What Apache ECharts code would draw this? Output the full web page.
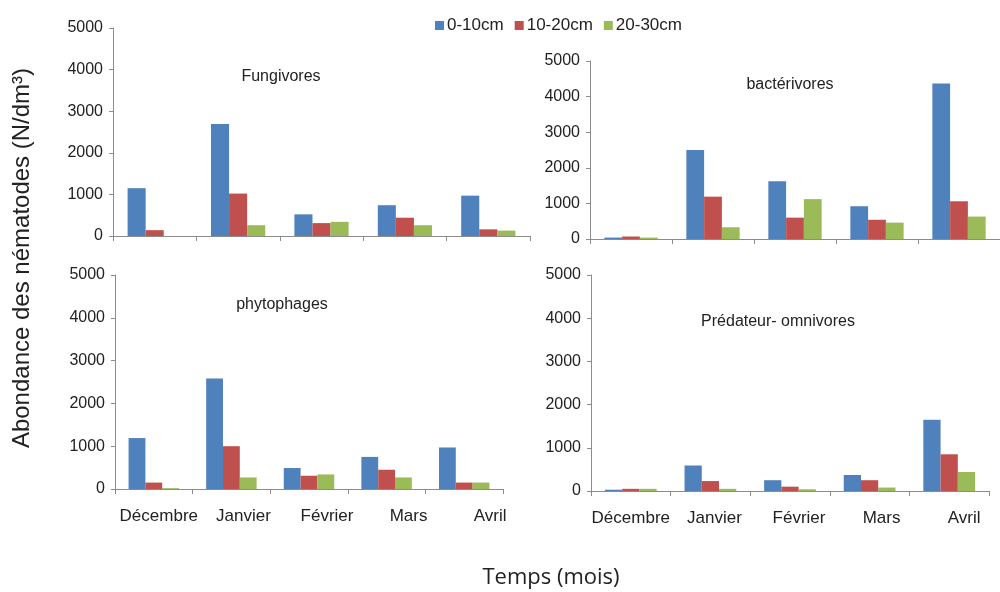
<!DOCTYPE html>
<html><head><meta charset="utf-8">
<script src="https://cdn.jsdelivr.net/npm/echarts@6/dist/echarts.min.js"></script>
<style>html,body{margin:0;padding:0;background:#fff}#c{width:1000px;height:592px}</style>
</head><body><div id="c"></div>
<script>
const months = ['Décembre', 'Janvier', 'Février', 'Mars', 'Avril'];
const depths = ['0-10cm', '10-20cm', '20-30cm'];
const yTicks = [0, 1000, 2000, 3000, 4000, 5000];
const panelTitles = ['Fungivores', 'bactérivores', 'phytophages', 'Prédateur- omnivores'];
const fungivores = [
  [1150, 2690, 520, 740, 970],
  [140, 1020, 310, 440, 160],
  [0, 260, 340, 260, 130]
];
const bacterivores = [
  [40, 2500, 1620, 920, 4370],
  [70, 1190, 600, 540, 1060],
  [40, 330, 1120, 460, 630]
];
const phytophages = [
  [1190, 2580, 490, 750, 970],
  [150, 1000, 310, 450, 150],
  [20, 270, 340, 270, 150]
];
const predateurs = [
  [30, 590, 250, 370, 1650],
  [50, 230, 100, 250, 850],
  [50, 50, 40, 80, 440]
];
const panels = [fungivores, bacterivores, phytophages, predateurs];
const colors = ['#4F81BD', '#C0504D', '#9BBB59'];
const font = 'Liberation Sans, Arial, sans-serif';

const grids = [
  {left: 113, top: 28, width: 417, height: 208},
  {left: 590, top: 61, width: 420, height: 178},
  {left: 115, top: 275, width: 388, height: 214},
  {left: 591, top: 275, width: 398, height: 216}
];
const titlePos = [[281, 77], [790, 85], [282, 305], [778, 322]];
// label drift to the right, as in the reference (layout only)
const labelShift = [null, null, [5, 12, 18, 22, 26], [0, 4, 9, 12, 15]];

const xAxes = grids.map((g, i) => {
  const rich = {};
  if (labelShift[i]) {
    labelShift[i].forEach((s, k) => {
      rich['a' + k] = {padding: [0, 0, 0, 2 * s], fontSize: 17, fontFamily: font, color: '#222'};
    });
  }
  return {
    type: 'category', gridIndex: i, data: months,
    axisLine: {lineStyle: {color: '#8c8c8c', width: 1}},
    axisTick: {show: true, length: 5, lineStyle: {color: '#8c8c8c'}},
    axisLabel: {
      show: i >= 2, interval: 0, color: '#222', fontSize: 17, fontFamily: font, margin: 19,
      formatter: (v, idx) => '{a' + idx + '|' + v + '}', rich: rich
    }
  };
});
const yAxes = grids.map((g, i) => ({
  type: 'value', gridIndex: i, min: yTicks[0], max: yTicks[yTicks.length - 1], interval: 1000,
  axisLine: {show: true, lineStyle: {color: '#8c8c8c', width: 1}},
  axisTick: {show: true, length: 4, lineStyle: {color: '#8c8c8c'}},
  splitLine: {show: false},
  axisLabel: {color: '#222', fontSize: 16, fontFamily: font, margin: 10, formatter: v => String(v)}
}));
const series = [];
panels.forEach((p, i) => {
  p.forEach((vals, d) => {
    series.push({
      type: 'bar', name: depths[d], xAxisIndex: i, yAxisIndex: i, data: vals,
      itemStyle: {color: colors[d]}, barGap: '0%', barCategoryGap: '35%'
    });
  });
});

const graphics = panelTitles.map((t, i) => ({
  type: 'text', x: titlePos[i][0], y: titlePos[i][1],
  style: {text: t, fill: '#222', font: '16px ' + font, textAlign: 'center', textVerticalAlign: 'middle'}
}));
graphics.push({
  type: 'text', x: 22, y: 258, rotation: Math.PI / 2,
  style: {text: 'Abondance des nématodes (N/dm³)', fill: '#222', font: '24px ' + font, textAlign: 'center', textVerticalAlign: 'middle'}
});
graphics.push({
  type: 'text', x: 551, y: 578,
  style: {text: 'Temps (mois)', fill: '#222', font: '22px "Open Sans", sans-serif', textAlign: 'center', textVerticalAlign: 'middle'}
});

const chart = echarts.init(document.getElementById('c'));
chart.setOption({
  animation: false,
  backgroundColor: '#fff',
  legend: {
    data: depths, left: 430, top: 12, itemWidth: 9, itemHeight: 9, itemGap: 11, icon: 'rect',
    textStyle: {fontSize: 17, fontFamily: font, color: '#222', padding: [0, 0, 0, -2]}
  },
  grid: grids,
  xAxis: xAxes,
  yAxis: yAxes,
  series: series,
  graphic: graphics
});
</script></body></html>
